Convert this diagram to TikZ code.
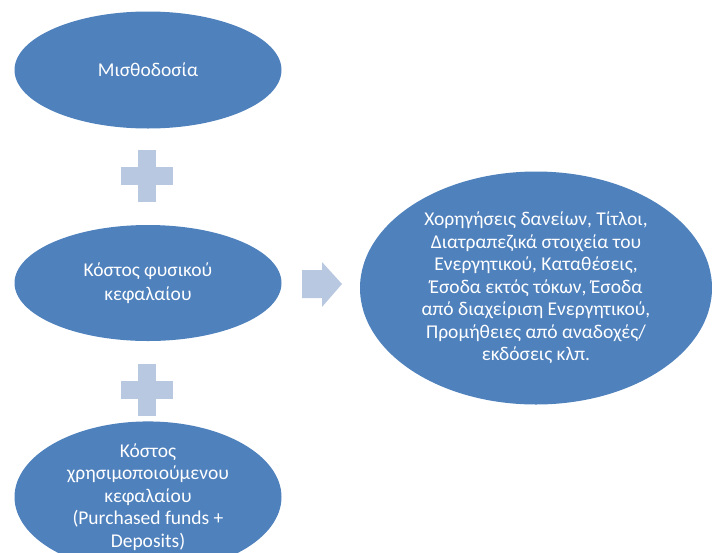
\documentclass[tikz,border=0pt]{standalone}
\usepackage{fontspec}
\setmainfont{Carlito}
\usetikzlibrary{shapes.geometric}
\definecolor{ellblue}{HTML}{4F81BD}
\definecolor{lightblue}{HTML}{B9C8E1}
\begin{document}
\begin{tikzpicture}[x=1pt,y=-1pt,
  ell/.style={ellipse,fill=ellblue,draw=none,inner sep=0pt,text=white,align=center,
    font=\fontsize{19.5}{22.5}\selectfont},
  sym/.style={fill=lightblue,draw=none}]
\useasboundingbox (0,0) rectangle (712,552);
\node[ell,minimum width=267,minimum height=117] (m) at (148,70) {Μισθοδοσία};
\node[ell,minimum width=267,minimum height=116] (k) at (148,283) {Κόστος φυσικού\\[2pt]κεφαλαίου};
\node[ell,minimum width=267,minimum height=114] (x) at (148,497) {Κόστος\\χρησιμοποιούμενου\\κεφαλαίου\\(Purchased funds +\\Deposits)};
\node[ell,minimum width=352,minimum height=233] (r) at (536,288) {Χορηγήσεις δανείων, Τίτλοι,\\Διατραπεζικά  στοιχεία του\\Ενεργητικού, Καταθέσεις,\\Έσοδα εκτός τόκων, Έσοδα\\από διαχείριση Ενεργητικού,\\Προμήθειες από αναδοχές/\\εκδόσεις κλπ.};
% plus signs
\coordinate (p1) at (147,176);
\coordinate (p2) at (147,390);
\foreach \p in {p1,p2}{
  \fill[sym] ([xshift=-9,yshift=-26]\p) rectangle ([xshift=9,yshift=26]\p);
  \fill[sym] ([xshift=-26,yshift=-9]\p) rectangle ([xshift=26,yshift=9]\p);
}
% arrow
\coordinate (a) at (302,284);
\fill[sym] (a) ++(0,-14) -- ++(20,0) -- ++(0,-8) -- ++(20,22) -- ++(-20,23) -- ++(0,-9) -- ++(-20,0) -- cycle;
\end{tikzpicture}
\end{document}
